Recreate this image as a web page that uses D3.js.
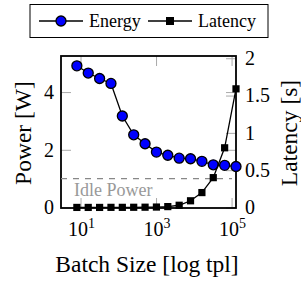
<!DOCTYPE html>
<html><head><meta charset="utf-8">
<script src="https://cdn.jsdelivr.net/npm/d3@7"></script>
<style>body{margin:0;background:#fff}svg{display:block}svg text{font-family:"Liberation Serif","Times New Roman",serif !important}</style>
</head><body><svg id="c" width="301" height="283"></svg>
<script>
const batchSizes = [8,16,32,64,128,256,512,1024,2048,4096,8192,16384,32768,65536,131072];
const energy = [4.91,4.66,4.47,4.30,3.17,2.52,2.21,1.92,1.81,1.71,1.69,1.60,1.48,1.46,1.42];
const latency = [0.001,0.001,0.001,0.002,0.002,0.003,0.004,0.006,0.012,0.03,0.09,0.2,0.4,0.8,1.59];
const idlePower = [1.0];
const powerTicks = [0,2,4];
const latencyTicks = [0,0.5,1,1.5,2];
const xTicks = [10,1000,100000];
const xTickExp = ["1","3","5"];
const seriesNames = ["Energy","Latency"];

const FONT = "Liberation Serif";
const L = 61, R = 236, T = 56, B = 208;
const svg = d3.select("#c");

const x = d3.scaleLog().domain([3.04, 131072]).range([L, R]);
const yL = d3.scaleLinear().domain([0, 5.25]).range([207.5, T]);
const yR = d3.scaleLinear().domain([0, 2.03]).range([207.5, T]);

function styleAxis(g) {
  g.attr("font-family", null);
  g.select(".domain").remove();
  g.selectAll(".tick line").attr("stroke", "#aaa").attr("stroke-width", 1);
  g.selectAll(".tick text").style("font-family", FONT).attr("font-size", 20).attr("fill", "#000");
}

svg.append("g").attr("transform", `translate(${L},0)`)
  .call(d3.axisLeft(yL).tickValues(powerTicks).tickSize(-10).tickPadding(7).tickFormat(d3.format("d")))
  .call(styleAxis);
svg.append("g").attr("transform", `translate(${R},0)`)
  .call(d3.axisRight(yL).tickValues(powerTicks.slice(1)).tickSize(-10).tickFormat(""))
  .call(styleAxis);
svg.append("g").attr("transform", `translate(${R},0)`)
  .call(d3.axisRight(yR).tickValues(latencyTicks).tickSize(-10).tickPadding(9).tickFormat(d => String(d)))
  .call(styleAxis);
svg.append("g").attr("transform", `translate(0,${B})`)
  .call(d3.axisBottom(x).tickValues(xTicks).tickSize(-10).tickFormat(""))
  .call(styleAxis);
svg.append("g").attr("transform", `translate(0,${T})`)
  .call(d3.axisTop(x).tickValues(xTicks).tickSize(-10).tickFormat(""))
  .call(styleAxis);

xTicks.forEach((t, i) => {
  const tx = svg.append("text").attr("x", x(t) + 1).attr("y", 236)
    .attr("text-anchor", "middle").style("font-family", FONT).attr("font-size", 20);
  tx.append("tspan").text("10");
  tx.append("tspan").attr("dy", -8).attr("font-size", 14).text(xTickExp[i]);
});

svg.append("rect").attr("x", L).attr("y", T).attr("width", R - L).attr("height", B - T)
  .attr("fill", "none").attr("stroke", "#000").attr("stroke-width", 1.8);

svg.append("line").attr("x1", L).attr("x2", 232).attr("y1", yL(idlePower[0])).attr("y2", yL(idlePower[0]))
  .attr("stroke", "#888").attr("stroke-width", 1.4).attr("stroke-dasharray", "6,6");
svg.append("text").attr("x", 74).attr("y", 196).style("font-family", FONT).attr("font-size", 18)
  .attr("fill", "#999").text("Idle Power");

const eLine = d3.line().x((d, i) => x(batchSizes[i])).y(d => yL(d));
svg.append("path").datum(energy).attr("d", eLine).attr("fill", "none").attr("stroke", "#000").attr("stroke-width", 1.3);
svg.selectAll(".e").data(energy).enter().append("circle")
  .attr("cx", (d, i) => x(batchSizes[i])).attr("cy", d => yL(d)).attr("r", 5)
  .attr("fill", "#0000ff").attr("stroke", "#000").attr("stroke-width", 1.3);

const lLine = d3.line().x((d, i) => x(batchSizes[i])).y(d => yR(d));
svg.append("path").datum(latency).attr("d", lLine).attr("fill", "none").attr("stroke", "#000").attr("stroke-width", 1.3);
svg.selectAll(".l").data(latency).enter().append("rect")
  .attr("x", (d, i) => x(batchSizes[i]) - 3.6).attr("y", d => yR(d) - 3.6)
  .attr("width", 7.2).attr("height", 7.2).attr("fill", "#000");

svg.append("text").attr("transform", `translate(31,133) rotate(-90)`).attr("text-anchor", "middle")
  .style("font-family", FONT).attr("font-size", 23.5).text("Power [W]");
svg.append("text").attr("transform", `translate(297,133) rotate(-90)`).attr("text-anchor", "middle")
  .style("font-family", FONT).attr("font-size", 23.5).text("Latency [s]");
svg.append("text").attr("x", 147).attr("y", 272).attr("text-anchor", "middle")
  .style("font-family", FONT).attr("font-size", 23.5).text("Batch Size [log tpl]");

const lg = svg.append("g");
lg.append("rect").attr("x", 30).attr("y", 4.5).attr("width", 238).attr("height", 33)
  .attr("fill", "#fff").attr("stroke", "#000").attr("stroke-width", 1);
lg.append("line").attr("x1", 39).attr("x2", 83).attr("y1", 21).attr("y2", 21).attr("stroke", "#000").attr("stroke-width", 1.3);
lg.append("circle").attr("cx", 61).attr("cy", 21).attr("r", 5).attr("fill", "#0000ff").attr("stroke", "#000").attr("stroke-width", 1.3);
lg.append("text").attr("x", 89).attr("y", 27).style("font-family", FONT).attr("font-size", 18).text(seriesNames[0]);
lg.append("line").attr("x1", 148).attr("x2", 192).attr("y1", 21).attr("y2", 21).attr("stroke", "#000").attr("stroke-width", 1.3);
lg.append("rect").attr("x", 166).attr("y", 17).attr("width", 8).attr("height", 8).attr("fill", "#000");
lg.append("text").attr("x", 198).attr("y", 27).style("font-family", FONT).attr("font-size", 18).text(seriesNames[1]);
</script></body></html>
